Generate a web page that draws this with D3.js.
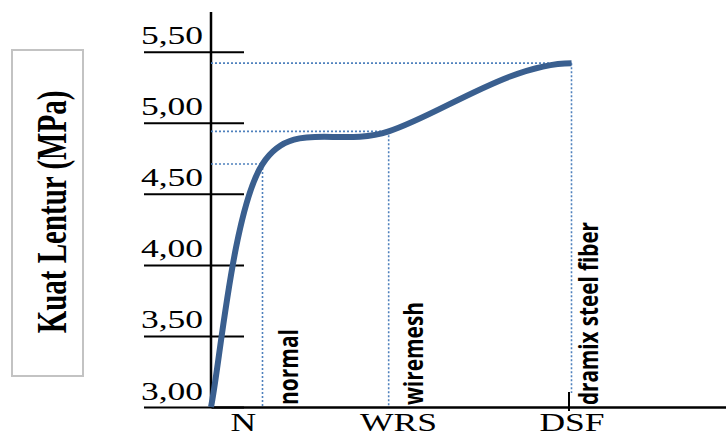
<!DOCTYPE html>
<html>
<head>
<meta charset="utf-8">
<script src="https://cdn.jsdelivr.net/npm/d3@7"></script>
<style>
  body { margin: 0; background: #fff; }
  svg { display: block; }
</style>
</head>
<body>
<div id="chart"></div>
<script>
// data
const pointNames = ["origin", "normal", "wiremesh", "dramix steel fiber"];
const pointX = [0, 1.0, 3.45, 7.0];          // position along the x axis
const pointY = [3.0, 4.71, 4.94, 5.42];      // Kuat Lentur (MPa)
const categories = ["N", "WRS", "DSF"];
const categoryX = [0.62, 3.63, 7.0];
const yTicks = [3.0, 3.5, 4.0, 4.5, 5.0, 5.5];
const tickedCategories = ["DSF"];

const svgWidth = 726;
const svgHeight = 436;
const stretch = 1.42; // the picture is stretched sideways

const svg = d3.select("#chart")
  .append("svg")
  .attr("width", svgWidth)
  .attr("height", svgHeight);

const x = d3.scaleLinear().domain([0, 10]).range([211, 726]);
const y = d3.scaleLinear().domain([3, 5.78]).range([407, 12]);

const comma = d3.formatLocale({ decimal: ",", thousands: ".", grouping: [3], currency: ["", ""] });
const fmt = comma.format(".2f");

// smooth curve like the spreadsheet one: catmull-rom inside, levelling off at the last point
function flatEndCurve(context) {
  let pts = [];
  return {
    areaStart() {},
    areaEnd() {},
    lineStart() { pts = []; },
    point(px, py) { pts.push([px, py]); },
    lineEnd() {
      const n = pts.length;
      if (!n) return;
      const tan = pts.map((p, i) => {
        if (n === 1) return [0, 0];
        if (i === 0) return [(pts[1][0] - p[0]) / 2, (pts[1][1] - p[1]) / 2];
        if (i === n - 1) return [p[0] - pts[i - 1][0], 0];
        return [(pts[i + 1][0] - pts[i - 1][0]) / 2, (pts[i + 1][1] - pts[i - 1][1]) / 2];
      });
      context.moveTo(pts[0][0], pts[0][1]);
      for (let i = 0; i < n - 1; i++) {
        const a = pts[i], b = pts[i + 1];
        context.bezierCurveTo(
          a[0] + tan[i][0] / 3, a[1] + tan[i][1] / 3,
          b[0] - tan[i + 1][0] / 3, b[1] - tan[i + 1][1] / 3,
          b[0], b[1]);
      }
    }
  };
}

// y axis title box
svg.append("rect")
  .attr("x", 12).attr("y", 50)
  .attr("width", 71).attr("height", 326)
  .attr("fill", "none")
  .attr("stroke", "#c3c3c3")
  .attr("stroke-width", 2);

svg.append("text")
  .attr("transform", `translate(66, 212) scale(${stretch}, 1) rotate(-90)`)
  .attr("text-anchor", "middle")
  .attr("font-family", "Liberation Serif, Times New Roman, serif")
  .attr("font-weight", "bold")
  .attr("font-size", 29)
  .text("Kuat Lentur (MPa)");

// y axis
const yAxis = svg.append("g")
  .attr("transform", `translate(${x(0)}, 0)`)
  .call(d3.axisLeft(y).tickValues(yTicks).tickFormat(fmt).tickSize(67));

yAxis.select(".domain").remove();
yAxis.selectAll(".tick line")
  .attr("x1", 33).attr("x2", -67)
  .attr("stroke", "#000")
  .attr("stroke-width", 2);
yAxis.selectAll(".tick text").remove();
yAxis.selectAll(".tick")
  .append("g")
  .attr("transform", `translate(-8, -8) scale(${stretch}, 1)`)
  .append("text")
  .attr("text-anchor", "end")
  .attr("font-family", "Liberation Serif, Times New Roman, serif")
  .attr("font-size", 25)
  .attr("fill", "#000")
  .text(d => fmt(d));

svg.append("line")
  .attr("x1", x(0)).attr("x2", x(0))
  .attr("y1", y.range()[1]).attr("y2", y(3) + 1)
  .attr("stroke", "#000")
  .attr("stroke-width", 2.5);

// x axis
const xAxis = svg.append("g")
  .attr("transform", `translate(0, ${y(3)})`)
  .call(d3.axisBottom(x).tickValues(categoryX).tickFormat((d, i) => categories[i]).tickSize(0));

xAxis.select(".domain")
  .attr("stroke", "#000")
  .attr("stroke-width", 2.5);
xAxis.selectAll(".tick text").remove();
xAxis.selectAll(".tick")
  .append("g")
  .attr("transform", `translate(0, 24) scale(${stretch}, 1)`)
  .append("text")
  .attr("text-anchor", "middle")
  .attr("font-family", "Liberation Serif, Times New Roman, serif")
  .attr("font-size", 25)
  .attr("fill", "#000")
  .text((d, i) => categories[i]);

xAxis.selectAll(".tick")
  .filter((d, i) => tickedCategories.includes(categories[i]))
  .append("line")
  .attr("x1", -3).attr("x2", -3)
  .attr("y1", -15).attr("y2", 4)
  .attr("stroke", "#000")
  .attr("stroke-width", 2);

// dotted guide lines
const points = pointNames.map((n, i) => ({ name: n, x: pointX[i], y: pointY[i] })).slice(1);

svg.selectAll(".guide-h")
  .data(points)
  .enter()
  .append("line")
  .attr("x1", x(0)).attr("x2", d => x(d.x))
  .attr("y1", d => y(d.y)).attr("y2", d => y(d.y))
  .attr("stroke", "#4f81bd")
  .attr("stroke-width", 1.6)
  .attr("stroke-dasharray", "2,2");

svg.selectAll(".guide-v")
  .data(points)
  .enter()
  .append("line")
  .attr("x1", d => x(d.x)).attr("x2", d => x(d.x))
  .attr("y1", d => y(d.y)).attr("y2", (d, i) => i === 2 ? y(3) - 14 : y(3) - 1)
  .attr("stroke", "#4f81bd")
  .attr("stroke-width", 1.6)
  .attr("stroke-dasharray", "2,2");

// curve
const line = d3.line()
  .x((d, i) => x(pointX[i]))
  .y(d => y(d))
  .curve(flatEndCurve);

svg.append("path")
  .datum(pointY)
  .attr("d", line)
  .attr("fill", "none")
  .attr("stroke", "#3a5f8f")
  .attr("stroke-width", 6)
  .attr("stroke-linecap", "butt");

// vertical point labels
const labelShift = [35, 34, 26];
const labelLength = [76, 103, 183];
svg.selectAll(".point-label")
  .data(points)
  .enter()
  .append("text")
  .attr("transform", (d, i) => `translate(${x(d.x) + labelShift[i]}, ${y(3) - 2}) rotate(-90)`)
  .attr("font-family", "Open Sans, sans-serif")
  .attr("font-weight", 700)
  .attr("font-size", 27)
  .attr("fill", "#000")
  .attr("textLength", (d, i) => labelLength[i])
  .attr("lengthAdjust", "spacingAndGlyphs")
  .text(d => d.name);
</script>
</body>
</html>
